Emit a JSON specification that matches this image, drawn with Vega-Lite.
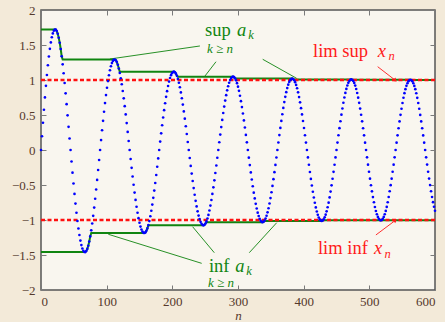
{
"$schema":"https://vega.github.io/schema/vega-lite/v6.json",
"autosize":"none",
"width":394,"height":280,
"padding":{"left":41,"top":10,"right":10,"bottom":32},
"background":"#f3ead9",
"config":{"view":{"fill":"#f9f6ef","stroke":"#555555","strokeWidth":1.5},
"axis":{"labelFont":"Liberation Serif","labelFontSize":13,"labelColor":"#55392c","titleFont":"Liberation Serif","titleFontSize":13,"titleFontWeight":"normal","titleColor":"#55392c","tickColor":"#7a7a7a","tickSize":-5,"domain":false,"grid":false}},
"datasets":{
"seq":[{"n":0,"x":0},{"n":1.5,"x":0.197},{"n":3,"x":0.390},{"n":4.5,"x":0.575},{"n":6,"x":0.751},{"n":7.5,"x":0.917},{"n":9,"x":1.071},{"n":10.5,"x":1.211},{"n":12,"x":1.336},{"n":13.5,"x":1.445},{"n":15,"x":1.537},{"n":16.5,"x":1.611},{"n":18,"x":1.666},{"n":19.5,"x":1.703},{"n":21,"x":1.720},{"n":22.5,"x":1.719},{"n":24,"x":1.699},{"n":25.5,"x":1.660},{"n":27,"x":1.604},{"n":28.5,"x":1.532},{"n":30,"x":1.443},{"n":31.5,"x":1.340},{"n":33,"x":1.224},{"n":34.5,"x":1.096},{"n":36,"x":0.957},{"n":37.5,"x":0.809},{"n":39,"x":0.655},{"n":40.5,"x":0.495},{"n":42,"x":0.331},{"n":43.5,"x":0.165},{"n":45,"x":0},{"n":46.5,"x":-0.164},{"n":48,"x":-0.324},{"n":49.5,"x":-0.479},{"n":51,"x":-0.627},{"n":52.5,"x":-0.766},{"n":54,"x":-0.896},{"n":55.5,"x":-1.015},{"n":57,"x":-1.121},{"n":58.5,"x":-1.215},{"n":60,"x":-1.294},{"n":61.5,"x":-1.358},{"n":63,"x":-1.407},{"n":64.5,"x":-1.440},{"n":66,"x":-1.457},{"n":67.5,"x":-1.458},{"n":69,"x":-1.443},{"n":70.5,"x":-1.413},{"n":72,"x":-1.368},{"n":73.5,"x":-1.308},{"n":75,"x":-1.234},{"n":76.5,"x":-1.148},{"n":78,"x":-1.050},{"n":79.5,"x":-0.941},{"n":81,"x":-0.823},{"n":82.5,"x":-0.697},{"n":84,"x":-0.565},{"n":85.5,"x":-0.427},{"n":87,"x":-0.286},{"n":88.5,"x":-0.143},
{"n":90,"x":0},{"n":91.5,"x":0.142},{"n":93,"x":0.282},{"n":94.5,"x":0.417},{"n":96,"x":0.547},{"n":97.5,"x":0.670},{"n":99,"x":0.784},{"n":100.5,"x":0.890},{"n":102,"x":0.984},{"n":103.5,"x":1.068},{"n":105,"x":1.139},{"n":106.5,"x":1.197},{"n":108,"x":1.242},{"n":109.5,"x":1.273},{"n":111,"x":1.289},{"n":112.5,"x":1.292},{"n":114,"x":1.281},{"n":115.5,"x":1.256},{"n":117,"x":1.217},{"n":118.5,"x":1.165},{"n":120,"x":1.101},{"n":121.5,"x":1.025},{"n":123,"x":0.939},{"n":124.5,"x":0.843},{"n":126,"x":0.738},{"n":127.5,"x":0.626},{"n":129,"x":0.508},{"n":130.5,"x":0.384},{"n":132,"x":0.258},{"n":133.5,"x":0.129},{"n":135,"x":0},{"n":136.5,"x":-0.129},{"n":138,"x":-0.255},{"n":139.5,"x":-0.378},{"n":141,"x":-0.496},{"n":142.5,"x":-0.608},{"n":144,"x":-0.713},{"n":145.5,"x":-0.810},{"n":147,"x":-0.897},{"n":148.5,"x":-0.974},{"n":150,"x":-1.040},{"n":151.5,"x":-1.094},{"n":153,"x":-1.136},{"n":154.5,"x":-1.166},{"n":156,"x":-1.183},{"n":157.5,"x":-1.186},{"n":159,"x":-1.177},{"n":160.5,"x":-1.155},{"n":162,"x":-1.120},{"n":163.5,"x":-1.074},{"n":165,"x":-1.016},{"n":166.5,"x":-0.947},{"n":168,"x":-0.868},{"n":169.5,"x":-0.780},{"n":171,"x":-0.683},{"n":172.5,"x":-0.580},{"n":174,"x":-0.471},{"n":175.5,"x":-0.357},{"n":177,"x":-0.240},{"n":178.5,"x":-0.120},
{"n":180,"x":0},{"n":181.5,"x":0.120},{"n":183,"x":0.238},{"n":184.5,"x":0.353},{"n":186,"x":0.464},{"n":187.5,"x":0.569},{"n":189,"x":0.668},{"n":190.5,"x":0.759},{"n":192,"x":0.841},{"n":193.5,"x":0.914},{"n":195,"x":0.977},{"n":196.5,"x":1.029},{"n":198,"x":1.069},{"n":199.5,"x":1.098},{"n":201,"x":1.114},{"n":202.5,"x":1.119},{"n":204,"x":1.111},{"n":205.5,"x":1.091},{"n":207,"x":1.059},{"n":208.5,"x":1.016},{"n":210,"x":0.961},{"n":211.5,"x":0.897},{"n":213,"x":0.823},{"n":214.5,"x":0.740},{"n":216,"x":0.649},{"n":217.5,"x":0.551},{"n":219,"x":0.448},{"n":220.5,"x":0.340},{"n":222,"x":0.228},{"n":223.5,"x":0.115},{"n":225,"x":0},{"n":226.5,"x":-0.114},{"n":228,"x":-0.227},{"n":229.5,"x":-0.337},{"n":231,"x":-0.443},{"n":232.5,"x":-0.544},{"n":234,"x":-0.639},{"n":235.5,"x":-0.726},{"n":237,"x":-0.806},{"n":238.5,"x":-0.876},{"n":240,"x":-0.937},{"n":241.5,"x":-0.987},{"n":243,"x":-1.026},{"n":244.5,"x":-1.054},{"n":246,"x":-1.071},{"n":247.5,"x":-1.076},{"n":249,"x":-1.069},{"n":250.5,"x":-1.050},{"n":252,"x":-1.020},{"n":253.5,"x":-0.979},{"n":255,"x":-0.927},{"n":256.5,"x":-0.865},{"n":258,"x":-0.794},{"n":259.5,"x":-0.714},{"n":261,"x":-0.627},{"n":262.5,"x":-0.533},{"n":264,"x":-0.433},{"n":265.5,"x":-0.329},{"n":267,"x":-0.221},{"n":268.5,"x":-0.111},
{"n":270,"x":0},{"n":271.5,"x":0.111},{"n":273,"x":0.220},{"n":274.5,"x":0.327},{"n":276,"x":0.430},{"n":277.5,"x":0.528},{"n":279,"x":0.620},{"n":280.5,"x":0.706},{"n":282,"x":0.783},{"n":283.5,"x":0.852},{"n":285,"x":0.911},{"n":286.5,"x":0.960},{"n":288,"x":0.999},{"n":289.5,"x":1.027},{"n":291,"x":1.043},{"n":292.5,"x":1.048},{"n":294,"x":1.042},{"n":295.5,"x":1.024},{"n":297,"x":0.995},{"n":298.5,"x":0.955},{"n":300,"x":0.905},{"n":301.5,"x":0.845},{"n":303,"x":0.775},{"n":304.5,"x":0.698},{"n":306,"x":0.613},{"n":307.5,"x":0.521},{"n":309,"x":0.423},{"n":310.5,"x":0.321},{"n":312,"x":0.216},{"n":313.5,"x":0.109},{"n":315,"x":0},{"n":316.5,"x":-0.109},{"n":318,"x":-0.216},{"n":319.5,"x":-0.320},{"n":321,"x":-0.422},{"n":322.5,"x":-0.518},{"n":324,"x":-0.609},{"n":325.5,"x":-0.692},{"n":327,"x":-0.769},{"n":328.5,"x":-0.836},{"n":330,"x":-0.895},{"n":331.5,"x":-0.943},{"n":333,"x":-0.982},{"n":334.5,"x":-1.009},{"n":336,"x":-1.026},{"n":337.5,"x":-1.031},{"n":339,"x":-1.025},{"n":340.5,"x":-1.007},{"n":342,"x":-0.979},{"n":343.5,"x":-0.940},{"n":345,"x":-0.891},{"n":346.5,"x":-0.832},{"n":348,"x":-0.764},{"n":349.5,"x":-0.687},{"n":351,"x":-0.604},{"n":352.5,"x":-0.513},{"n":354,"x":-0.417},{"n":355.5,"x":-0.317},{"n":357,"x":-0.213},{"n":358.5,"x":-0.107},
{"n":360,"x":0},{"n":361.5,"x":0.107},{"n":363,"x":0.213},{"n":364.5,"x":0.316},{"n":366,"x":0.416},{"n":367.5,"x":0.511},{"n":369,"x":0.601},{"n":370.5,"x":0.684},{"n":372,"x":0.759},{"n":373.5,"x":0.826},{"n":375,"x":0.884},{"n":376.5,"x":0.933},{"n":378,"x":0.971},{"n":379.5,"x":0.998},{"n":381,"x":1.014},{"n":382.5,"x":1.020},{"n":384,"x":1.014},{"n":385.5,"x":0.997},{"n":387,"x":0.969},{"n":388.5,"x":0.930},{"n":390,"x":0.882},{"n":391.5,"x":0.824},{"n":393,"x":0.756},{"n":394.5,"x":0.681},{"n":396,"x":0.598},{"n":397.5,"x":0.508},{"n":399,"x":0.414},{"n":400.5,"x":0.314},{"n":402,"x":0.211},{"n":403.5,"x":0.106},{"n":405,"x":0},{"n":406.5,"x":-0.106},{"n":408,"x":-0.211},{"n":409.5,"x":-0.314},{"n":411,"x":-0.413},{"n":412.5,"x":-0.507},{"n":414,"x":-0.596},{"n":415.5,"x":-0.679},{"n":417,"x":-0.753},{"n":418.5,"x":-0.820},{"n":420,"x":-0.878},{"n":421.5,"x":-0.926},{"n":423,"x":-0.964},{"n":424.5,"x":-0.991},{"n":426,"x":-1.007},{"n":427.5,"x":-1.013},{"n":429,"x":-1.007},{"n":430.5,"x":-0.990},{"n":432,"x":-0.962},{"n":433.5,"x":-0.924},{"n":435,"x":-0.876},{"n":436.5,"x":-0.818},{"n":438,"x":-0.752},{"n":439.5,"x":-0.677},{"n":441,"x":-0.594},{"n":442.5,"x":-0.505},{"n":444,"x":-0.411},{"n":445.5,"x":-0.312},{"n":447,"x":-0.210},{"n":448.5,"x":-0.106},
{"n":450,"x":0},{"n":451.5,"x":0.106},{"n":453,"x":0.210},{"n":454.5,"x":0.312},{"n":456,"x":0.411},{"n":457.5,"x":0.505},{"n":459,"x":0.593},{"n":460.5,"x":0.675},{"n":462,"x":0.750},{"n":463.5,"x":0.816},{"n":465,"x":0.873},{"n":466.5,"x":0.921},{"n":468,"x":0.959},{"n":469.5,"x":0.986},{"n":471,"x":1.003},{"n":472.5,"x":1.008},{"n":474,"x":1.002},{"n":475.5,"x":0.986},{"n":477,"x":0.958},{"n":478.5,"x":0.920},{"n":480,"x":0.872},{"n":481.5,"x":0.815},{"n":483,"x":0.748},{"n":484.5,"x":0.674},{"n":486,"x":0.592},{"n":487.5,"x":0.503},{"n":489,"x":0.409},{"n":490.5,"x":0.311},{"n":492,"x":0.209},{"n":493.5,"x":0.105},{"n":495,"x":0},{"n":496.5,"x":-0.105},{"n":498,"x":-0.209},{"n":499.5,"x":-0.311},{"n":501,"x":-0.409},{"n":502.5,"x":-0.503},{"n":504,"x":-0.591},{"n":505.5,"x":-0.673},{"n":507,"x":-0.747},{"n":508.5,"x":-0.814},{"n":510,"x":-0.871},{"n":511.5,"x":-0.918},{"n":513,"x":-0.956},{"n":514.5,"x":-0.983},{"n":516,"x":-1.000},{"n":517.5,"x":-1.005},{"n":519,"x":-1.000},{"n":520.5,"x":-0.983},{"n":522,"x":-0.956},{"n":523.5,"x":-0.918},{"n":525,"x":-0.870},{"n":526.5,"x":-0.813},{"n":528,"x":-0.747},{"n":529.5,"x":-0.672},{"n":531,"x":-0.590},{"n":532.5,"x":-0.502},{"n":534,"x":-0.409},{"n":535.5,"x":-0.310},{"n":537,"x":-0.209},{"n":538.5,"x":-0.105},
{"n":540,"x":0},{"n":541.5,"x":0.105},{"n":543,"x":0.209},{"n":544.5,"x":0.310},{"n":546,"x":0.408},{"n":547.5,"x":0.502},{"n":549,"x":0.590},{"n":550.5,"x":0.672},{"n":552,"x":0.746},{"n":553.5,"x":0.812},{"n":555,"x":0.869},{"n":556.5,"x":0.917},{"n":558,"x":0.954},{"n":559.5,"x":0.981},{"n":561,"x":0.998},{"n":562.5,"x":1.003},{"n":564,"x":0.998},{"n":565.5,"x":0.981},{"n":567,"x":0.954},{"n":568.5,"x":0.916},{"n":570,"x":0.869},{"n":571.5,"x":0.811},{"n":573,"x":0.745},{"n":574.5,"x":0.671},{"n":576,"x":0.589},{"n":577.5,"x":0.501},{"n":579,"x":0.408},{"n":580.5,"x":0.310},{"n":582,"x":0.208},{"n":583.5,"x":0.105},{"n":585,"x":0},{"n":586.5,"x":-0.105},{"n":588,"x":-0.208},{"n":589.5,"x":-0.310},{"n":591,"x":-0.408},{"n":592.5,"x":-0.501},{"n":594,"x":-0.589},{"n":595.5,"x":-0.671},{"n":597,"x":-0.745},{"n":598.5,"x":-0.811},{"n":600,"x":-0.868}],
"sup":[{"n":0,"v":1.720},{"n":21,"v":1.720},{"n":22.5,"v":1.719},{"n":24,"v":1.699},{"n":25.5,"v":1.660},{"n":27,"v":1.604},{"n":28.5,"v":1.532},{"n":30,"v":1.443},{"n":31.5,"v":1.340},{"n":33,"v":1.292},{"n":112.5,"v":1.292},{"n":114,"v":1.281},{"n":115.5,"v":1.256},{"n":117,"v":1.217},{"n":118.5,"v":1.165},{"n":120,"v":1.119},{"n":202.5,"v":1.119},{"n":204,"v":1.111},{"n":205.5,"v":1.091},{"n":207,"v":1.059},{"n":208.5,"v":1.048},{"n":292.5,"v":1.048},{"n":294,"v":1.042},{"n":295.5,"v":1.024},{"n":297,"v":1.020},{"n":382.5,"v":1.020},{"n":384,"v":1.014},{"n":385.5,"v":1.008},{"n":472.5,"v":1.008},{"n":474,"v":1.003},{"n":562.5,"v":1.003},{"n":564,"v":1.001},{"n":600,"v":1.001}],
"inf":[{"n":0,"v":-1.458},{"n":67.5,"v":-1.458},{"n":69,"v":-1.443},{"n":70.5,"v":-1.413},{"n":72,"v":-1.368},{"n":73.5,"v":-1.308},{"n":75,"v":-1.234},{"n":76.5,"v":-1.186},{"n":157.5,"v":-1.186},{"n":159,"v":-1.177},{"n":160.5,"v":-1.155},{"n":162,"v":-1.120},{"n":163.5,"v":-1.076},{"n":247.5,"v":-1.076},{"n":249,"v":-1.069},{"n":250.5,"v":-1.050},{"n":252,"v":-1.031},{"n":337.5,"v":-1.031},{"n":339,"v":-1.025},{"n":340.5,"v":-1.013},{"n":427.5,"v":-1.013},{"n":429,"v":-1.007},{"n":430.5,"v":-1.005},{"n":517.5,"v":-1.005},{"n":519,"v":-1.002},{"n":600,"v":-1.002}],
"lims":[{"v":1},{"v":-1}],
"leaders":[{"n1":105,"y1":1.30,"n2":242,"y2":1.486,"g":"bound"},{"n1":266.5,"y1":1.261,"n2":249.7,"y2":1.057,"g":"bound"},{"n1":337.6,"y1":1.296,"n2":389.3,"y2":1.024,"g":"bound"},{"n1":244.7,"y1":-1.619,"n2":102.5,"y2":-1.204,"g":"bound"},{"n1":263.9,"y1":-1.467,"n2":230.9,"y2":-1.096,"g":"bound"},{"n1":317.2,"y1":-1.467,"n2":358.9,"y2":-1.039,"g":"bound"},{"n1":512.7,"y1":1.19,"n2":539,"y2":1.0,"g":"limit"},{"n1":510,"y1":-1.214,"n2":539,"y2":-1.010,"g":"limit"}],
"heads":[{"n":539,"y":1.0,"dir":"down"},{"n":539,"y":-1.010,"dir":"up"}],
"labels":[
{"n":249.7,"y":1.633,"t":"sup","g":"bound","role":"word"},{"n":414.2,"y":1.333,"t":"lim sup","g":"limit","role":"word"},{"n":255.8,"y":-1.739,"t":"inf","g":"bound","role":"word"},{"n":421.8,"y":-1.486,"t":"lim inf","g":"limit","role":"word"},
{"n":298.5,"y":1.633,"t":"a","g":"bound","role":"var"},{"n":513,"y":1.333,"t":"x","g":"limit","role":"var"},{"n":296,"y":-1.739,"t":"a","g":"bound","role":"var"},{"n":507,"y":-1.486,"t":"x","g":"limit","role":"var"},
{"n":315.5,"y":1.581,"t":"k","g":"bound","role":"sub"},{"n":529,"y":1.286,"t":"n","g":"limit","role":"sub"},{"n":312.5,"y":-1.786,"t":"k","g":"bound","role":"sub"},{"n":523,"y":-1.536,"t":"n","g":"limit","role":"sub"},
{"n":252.8,"y":1.381,"t":"k ≥ n","g":"bound","role":"range"},{"n":254.3,"y":-1.955,"t":"k ≥ n","g":"bound","role":"range"}]
},
"resolve":{"axis":{"x":"independent","y":"independent"}},
"layer":[
{"data":{"name":"sup"},"mark":{"type":"line","color":"#108510","strokeWidth":2},
 "encoding":{"x":{"field":"n","type":"quantitative","scale":{"domain":[0,600],"nice":false,"zero":false},"axis":{"orient":"top","labels":false,"title":null,"values":[0,100,200,300,400,500,600]}},
 "y":{"field":"v","type":"quantitative","scale":{"domain":[-2,2],"nice":false,"zero":false},"axis":{"orient":"right","labels":false,"title":null,"values":[-2,-1.5,-1,-0.5,0,0.5,1,1.5,2]}}}},
{"data":{"name":"inf"},"mark":{"type":"line","color":"#108510","strokeWidth":2},
 "encoding":{"x":{"field":"n","type":"quantitative","axis":null},"y":{"field":"v","type":"quantitative","axis":null}}},
{"data":{"name":"lims"},"mark":{"type":"rule","color":"#ff1010","strokeWidth":2.5,"strokeDash":[4,2.5]},
 "encoding":{"y":{"field":"v","type":"quantitative","axis":null}}},
{"data":{"name":"leaders"},"mark":{"type":"rule","strokeWidth":0.9},
 "encoding":{"x":{"field":"n1","type":"quantitative","axis":null},"y":{"field":"y1","type":"quantitative","axis":null},"x2":{"field":"n2"},"y2":{"field":"y2"},
 "color":{"field":"g","type":"nominal","scale":{"domain":["bound","limit"],"range":["#108510","#ff1a1a"]},"legend":null}}},
{"data":{"name":"heads"},"transform":[{"filter":"datum.dir == 'down'"}],"mark":{"type":"point","shape":"triangle","filled":true,"size":18,"angle":128,"color":"#ff1a1a","opacity":1},
 "encoding":{"x":{"field":"n","type":"quantitative","axis":null},"y":{"field":"y","type":"quantitative","axis":null}}},
{"data":{"name":"heads"},"transform":[{"filter":"datum.dir == 'up'"}],"mark":{"type":"point","shape":"triangle","filled":true,"size":18,"angle":53,"color":"#ff1a1a","opacity":1},
 "encoding":{"x":{"field":"n","type":"quantitative","axis":null},"y":{"field":"y","type":"quantitative","axis":null}}},
{"data":{"name":"seq"},"mark":{"type":"circle","color":"#0000ff","size":7,"opacity":1},
 "encoding":{"x":{"field":"n","type":"quantitative","axis":{"orient":"bottom","values":[0,100,200,300,400,500,600],"labelPadding":10,"title":"n","titleFontStyle":"italic","titlePadding":1}},
 "y":{"field":"x","type":"quantitative","axis":{"orient":"left","values":[-2,-1.5,-1,-0.5,0,0.5,1,1.5,2],"format":"~g","labelPadding":11,"title":null}}}},
{"data":{"name":"labels"},"transform":[{"filter":"datum.role == 'word'"}],"mark":{"type":"text","align":"left","baseline":"alphabetic","font":"Liberation Serif","fontSize":18.5},
 "encoding":{"x":{"field":"n","type":"quantitative","axis":null},"y":{"field":"y","type":"quantitative","axis":null},"text":{"field":"t"},"color":{"field":"g","type":"nominal","legend":null}}},
{"data":{"name":"labels"},"transform":[{"filter":"datum.role == 'var'"}],"mark":{"type":"text","align":"left","baseline":"alphabetic","font":"Liberation Serif","fontSize":18.5,"fontStyle":"italic"},
 "encoding":{"x":{"field":"n","type":"quantitative","axis":null},"y":{"field":"y","type":"quantitative","axis":null},"text":{"field":"t"},"color":{"field":"g","type":"nominal","legend":null}}},
{"data":{"name":"labels"},"transform":[{"filter":"datum.role == 'sub'"}],"mark":{"type":"text","align":"left","baseline":"alphabetic","font":"Liberation Serif","fontSize":12.5,"fontStyle":"italic"},
 "encoding":{"x":{"field":"n","type":"quantitative","axis":null},"y":{"field":"y","type":"quantitative","axis":null},"text":{"field":"t"},"color":{"field":"g","type":"nominal","legend":null}}},
{"data":{"name":"labels"},"transform":[{"filter":"datum.role == 'range'"}],"mark":{"type":"text","align":"left","baseline":"alphabetic","font":"Liberation Serif","fontSize":13,"fontStyle":"italic"},
 "encoding":{"x":{"field":"n","type":"quantitative","axis":null},"y":{"field":"y","type":"quantitative","axis":null},"text":{"field":"t"},"color":{"field":"g","type":"nominal","legend":null}}}
]
}
